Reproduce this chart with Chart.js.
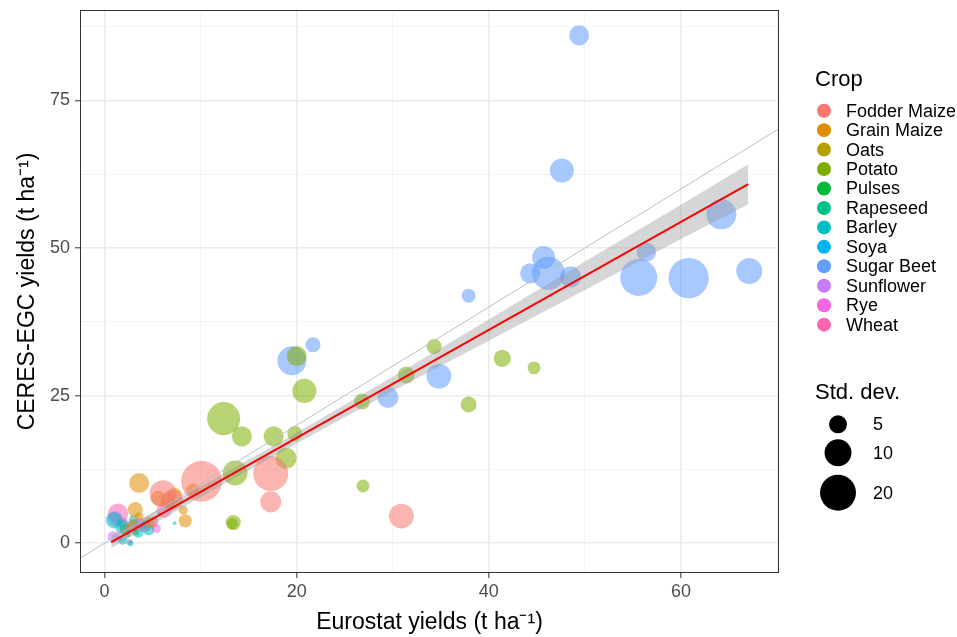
<!DOCTYPE html>
<html><head><meta charset="utf-8">
<script src="https://cdn.jsdelivr.net/npm/chart.js@4/dist/chart.umd.min.js"></script>
<style>html,body{margin:0;padding:0;background:#fff}canvas{display:block}</style>
</head><body>
<canvas id="c" width="957" height="637"></canvas>
<script>
// ---------- data ----------
const cropNames = ["Fodder Maize","Grain Maize","Oats","Potato","Pulses","Rapeseed","Barley","Soya","Sugar Beet","Sunflower","Rye","Wheat"];
const cropColors = ["#F8766D","#DE8C00","#B79F00","#7CAE00","#00BA38","#00C08B","#00BFC4","#00B4F0","#619CFF","#C77CFF","#F564E3","#FF64B0"];

const fodderMaizeX = [10.1, 17.3, 17.3, 30.9, 6.1, 7.1];
const fodderMaizeY = [10.5, 11.8, 7.0, 4.6, 8.4, 7.4];
const fodderMaizeSD = [29, 18.6, 6.4, 8.5, 10, 6];

const grainMaizeX = [3.6, 3.2, 5.6, 7.3, 9.2, 8.2, 8.4, 6.6, 3.6, 4.8, 2.5];
const grainMaizeY = [10.2, 5.7, 7.6, 8.1, 9.0, 5.6, 3.8, 7.3, 4.5, 3.3, 2.8];
const grainMaizeSD = [5.9, 4, 4, 4, 3.5, 2.5, 3.5, 4, 2.5, 2.5, 2];

const oatsX = [3.0, 4.5, 2.2];
const oatsY = [3.2, 4.0, 2.0];
const oatsSD = [2.5, 2, 2];

const potatoX = [20.0, 20.8, 34.3, 31.4, 26.8, 41.4, 37.9, 44.7, 26.9, 19.8, 18.9, 12.4, 14.3, 17.6, 13.6, 13.4, 13.3];
const potatoY = [31.7, 25.8, 33.3, 28.5, 24.0, 31.3, 23.5, 29.7, 9.7, 18.6, 14.4, 21.1, 18.1, 18.1, 11.9, 3.5, 3.3];
const potatoSD = [5.9, 8, 4, 4.7, 4.3, 4.7, 4.3, 3.4, 3.4, 4, 6.4, 16, 5.9, 5.9, 8.5, 4, 3];

const pulsesX = [2.4, 3.1];
const pulsesY = [1.5, 2.2];
const pulsesSD = [2, 1.8];

const rapeseedX = [2.0, 3.3, 4.0];
const rapeseedY = [2.6, 1.8, 3.0];
const rapeseedSD = [2.5, 2, 2];

const barleyX = [7.3, 1.9, 1.9, 3.5, 5.7, 2.7, 4.6, 1.0, 3.0];
const barleyY = [3.4, 2.8, 0.5, 1.9, 5.0, 0.0, 2.3, 3.9, 4.0];
const barleySD = [1.7, 4, 2.5, 3, 1.6, 2, 3, 4.5, 2.5];

const soyaX = [2.3, 4.2];
const soyaY = [2.0, 3.5];
const soyaSD = [2, 2];

const sugarBeetX = [49.4, 47.6, 64.2, 56.4, 45.7, 44.3, 46.2, 48.5, 55.6, 60.8, 67.1, 37.9, 21.7, 19.5, 29.5, 34.8];
const sugarBeetY = [86.0, 63.1, 55.7, 49.3, 48.4, 45.7, 45.7, 45.1, 45.0, 44.9, 46.1, 41.9, 33.6, 30.9, 24.7, 28.3];
const sugarBeetSD = [5.9, 8, 12.7, 5.6, 7.4, 5.9, 16, 6.4, 21.7, 28, 9.3, 3.7, 4, 11.7, 6.4, 8.5];

const sunflowerX = [0.9, 1.1, 2.2, 3.6, 1.6];
const sunflowerY = [1.1, 4.2, 2.2, 2.9, 0.8];
const sunflowerSD = [3, 4, 3, 2.5, 2];

const ryeX = [3.6, 5.4, 2.8, 4.4];
const ryeY = [3.4, 2.5, 2.5, 3.0];
const ryeSD = [3, 2.5, 3, 2.5];

const wheatX = [1.4, 2.6, 4.2, 5.0, 6.2, 3.0, 1.8, 6.8];
const wheatY = [5.0, 0.2, 2.8, 3.6, 5.6, 3.0, 3.5, 6.5];
const wheatSD = [6, 2, 3, 3, 4, 3.5, 3, 3];

// fitted regression line and its confidence band
const fitX  = [0.7, 10, 20, 30, 40, 50, 60, 67];
const fitY  = [0.2, 8.7, 17.84, 26.98, 36.12, 45.26, 54.4, 60.8];
const fitLo = [-0.8, 7.8, 16.9, 25.8, 34.3, 42.9, 51.5, 57.4];
const fitHi = [1.3, 9.6, 18.7, 28.2, 37.9, 47.7, 57.3, 64.2];

// 1:1 reference line
const oneToOne = [-5, 80];

// axes
const xTickValues = [0, 10, 20, 30, 40, 50, 60, 70];
const xTickLabels = [0, 20, 40, 60];
const yTickValues = [0, 12.5, 25, 37.5, 50, 62.5, 75, 87.5];
const yTickLabels = [0, 25, 50, 75];
const sdLegendValues = [5, 10, 20];

// ---------- chart ----------
const FONT = '"Liberation Sans", Arial, Helvetica, sans-serif';
Chart.defaults.font.family = FONT;

function diameterFromSd(sd) { return Math.max(3, -3 + 13 * Math.log(sd)); }
function hexA(hex, a) {
  const n = parseInt(hex.slice(1), 16);
  return `rgba(${(n >> 16) & 255},${(n >> 8) & 255},${n & 255},${a})`;
}

const cropX = [fodderMaizeX, grainMaizeX, oatsX, potatoX, pulsesX, rapeseedX, barleyX, soyaX, sugarBeetX, sunflowerX, ryeX, wheatX];
const cropY = [fodderMaizeY, grainMaizeY, oatsY, potatoY, pulsesY, rapeseedY, barleyY, soyaY, sugarBeetY, sunflowerY, ryeY, wheatY];
const cropSD = [fodderMaizeSD, grainMaizeSD, oatsSD, potatoSD, pulsesSD, rapeseedSD, barleySD, soyaSD, sugarBeetSD, sunflowerSD, ryeSD, wheatSD];

const bubbleSets = cropNames.map((name, i) => ({
  type: 'bubble',
  label: name,
  data: cropX[i].map((x, j) => ({ x: x, y: cropY[i][j], r: diameterFromSd(cropSD[i][j]) / 2 })),
  backgroundColor: hexA(cropColors[i], 0.55),
  borderWidth: 0,
  clip: 0,
  order: 10
}));

const datasets = [
  { type: 'line', label: 'fit', data: fitX.map((x, i) => ({ x, y: fitY[i] })), borderColor: '#FF0000', borderWidth: 2, pointRadius: 0, fill: false, tension: 0, clip: 0, order: 0 },
  { type: 'line', label: 'hi', data: fitX.map((x, i) => ({ x, y: fitHi[i] })), borderWidth: 0, borderColor: 'rgba(0,0,0,0)', pointRadius: 0, fill: '+1', backgroundColor: 'rgba(153,153,153,0.4)', tension: 0, clip: 0, order: 1 },
  { type: 'line', label: 'lo', data: fitX.map((x, i) => ({ x, y: fitLo[i] })), borderWidth: 0, borderColor: 'rgba(0,0,0,0)', pointRadius: 0, fill: false, tension: 0, clip: 0, order: 1 },
  { type: 'line', label: '1:1', data: oneToOne.map(v => ({ x: v, y: v })), borderColor: '#BEBEBE', borderWidth: 1, pointRadius: 0, fill: false, clip: 0, order: 2 },
  ...bubbleSets
];

const borderPlugin = {
  id: 'panelBorder',
  afterDatasetsDraw(chart) {
    const { ctx, chartArea: a } = chart;
    ctx.save();
    ctx.strokeStyle = '#333333';
    ctx.lineWidth = 1;
    ctx.strokeRect(a.left + 0.5, a.top + 0.5, a.right - a.left - 1, a.bottom - a.top - 1);
    ctx.restore();
  }
};

const legendPlugin = {
  id: 'ggLegend',
  afterDraw(chart) {
    const ctx = chart.ctx;
    ctx.save();
    ctx.textBaseline = 'middle';
    ctx.textAlign = 'left';
    ctx.fillStyle = '#000';
    ctx.font = '22px ' + FONT;
    ctx.fillText('Crop', 815, 80);
    ctx.font = '18px ' + FONT;
    cropNames.forEach((n, i) => {
      const y = 110.7 + 19.45 * i;
      ctx.beginPath();
      ctx.arc(824, y, 7, 0, Math.PI * 2);
      ctx.fillStyle = cropColors[i];
      ctx.fill();
      ctx.fillStyle = '#000';
      ctx.fillText(n, 846, y + 1);
    });
    ctx.font = '22px ' + FONT;
    ctx.fillText('Std. dev.', 815, 393);
    ctx.font = '18px ' + FONT;
    const ys = [424.3, 452.7, 492.7];
    sdLegendValues.forEach((v, i) => {
      ctx.beginPath();
      ctx.arc(838, ys[i], diameterFromSd(v) / 2, 0, Math.PI * 2);
      ctx.fillStyle = '#000';
      ctx.fill();
      ctx.fillText(String(v), 873, ys[i] + 1);
    });
    ctx.restore();
  }
};

const tickFont = { size: 18 };
new Chart(document.getElementById('c'), {
  type: 'bubble',
  data: { datasets },
  options: {
    responsive: false,
    animation: false,
    devicePixelRatio: 1,
    events: [],
    layout: { autoPadding: false, padding: { left: 0, right: 178, top: 10, bottom: 0 } },
    plugins: { legend: { display: false }, tooltip: { enabled: false } },
    scales: {
      x: {
        type: 'linear', min: -2.55, max: 70.2,
        afterBuildTicks: s => { s.ticks = xTickValues.map(v => ({ value: v })); },
        afterFit: s => { s.height = 64; s.paddingLeft = 0; s.paddingRight = 0; },
        ticks: { autoSkip: false, maxRotation: 0, padding: 3, color: '#4D4D4D', font: tickFont,
          callback: v => xTickLabels.includes(v) ? String(v) : '' },
        grid: {
          color: c => xTickLabels.includes(c.tick.value) ? '#EBEBEB' : '#F2F2F2',
          lineWidth: c => xTickLabels.includes(c.tick.value) ? 1.6 : 0.9,
          tickColor: c => xTickLabels.includes(c.tick.value) ? '#333333' : 'rgba(0,0,0,0)',
          tickLength: 5, tickWidth: 1, drawTicks: true
        },
        border: { display: false },
        title: { display: true, text: 'Eurostat yields (t ha⁻¹)', color: '#000', font: { size: 23 }, padding: { top: 0, bottom: 1 } }
      },
      y: {
        type: 'linear', min: -5.04, max: 90.3,
        afterBuildTicks: s => { s.ticks = yTickValues.map(v => ({ value: v })); },
        afterFit: s => { s.width = 80; s.paddingTop = 0; s.paddingBottom = 0; },
        ticks: { autoSkip: false, padding: 5, color: '#4D4D4D', font: tickFont,
          callback: v => yTickLabels.includes(v) ? String(v) : '' },
        grid: {
          color: c => yTickLabels.includes(c.tick.value) ? '#EBEBEB' : '#F2F2F2',
          lineWidth: c => yTickLabels.includes(c.tick.value) ? 1.6 : 0.9,
          tickColor: c => yTickLabels.includes(c.tick.value) ? '#333333' : 'rgba(0,0,0,0)',
          tickLength: 5, tickWidth: 1, drawTicks: true
        },
        border: { display: false },
        title: { display: true, text: 'CERES-EGC yields (t ha⁻¹)', color: '#000', font: { size: 23 }, padding: { top: 14, bottom: 0 } }
      }
    }
  },
  plugins: [borderPlugin, legendPlugin]
});
</script>
</body></html>
